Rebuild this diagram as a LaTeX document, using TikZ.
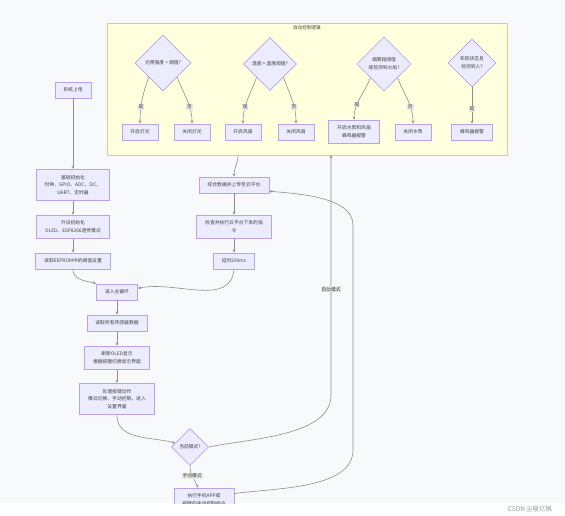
\documentclass[tikz,border=0pt]{standalone}
\usepackage{fontspec}
\setmainfont{Noto Sans CJK SC}
\usepackage{xcolor}
\usepackage{tikz}
\usetikzlibrary{arrows.meta, shapes.geometric}
\definecolor{flowFill}{HTML}{ECECFF}
\definecolor{flowBorder}{HTML}{B9A2EA}
\definecolor{clusterFill}{HTML}{FFFFDE}
\definecolor{clusterBorder}{HTML}{AAAA33}
\definecolor{flowLine}{HTML}{8E8E8E}
\definecolor{pageBack}{HTML}{F8F9FB}
\definecolor{labelBack}{HTML}{E8E8E8}

\begin{document}
\begin{tikzpicture}[x=1pt, y=1pt,
  every node/.style={inner sep=.5ex, font=\fontsize{4.8}{7.7}\selectfont, text=black!75},
  box/.style={rectangle, draw=flowBorder, fill=flowFill, line width=.8pt, align=center, inner xsep=8.5pt, inner ysep=5.8pt},
  decision/.style={diamond, draw=flowBorder, fill=flowFill, line width=.8pt, align=center, inner sep=0pt},
  lbl/.style={fill=labelBack, inner sep=.8pt},
  flow/.style={draw=flowLine, line width=.6pt, -{Stealth[length=3.2pt, width=2.8pt]}}]

  \useasboundingbox (0,0) rectangle (565,-515);
  \fill[white] (0,0) rectangle (565,-515);
  \fill[pageBack] (0,0) rectangle (565,-503);

  \begin{scope}
  \clip (0,0) rectangle (565,-503);

  \node[draw=clusterBorder!55, fill=clusterFill, line width=.8pt, minimum width=400pt, minimum height=132pt, inner sep=0pt] (autoCtrl) at (307,-89) {};
  \node[font=\fontsize{4.6}{5}\selectfont] (autoTitle) at (307,-28) {自动控制逻辑};
  \coordinate (autoIn) at (331,-155);
  \coordinate (autoOut) at (238,-155);
  \coordinate (autoBend) at (331,-395);
  \coordinate (backLow) at (353,-450);
  \coordinate (backHigh) at (353,-225);

  \node[decision, minimum width=56pt, minimum height=56pt] (lightChk) at (163,-63) {光照强度 < 阈值?};
  \node[decision, minimum width=53pt, minimum height=53pt] (tempChk) at (270,-64) {温度 > 温度阈值?};
  \node[decision, minimum width=54pt, minimum height=54pt] (fireChk) at (384,-64) {烟雾超阈值\\或检测到火焰?};
  \node[decision, minimum width=48pt, minimum height=48pt] (guardChk) at (472,-63) {布防状态且\\检测到人?};

  \node[box] (lightOn) at (140,-132) {开启灯光};
  \node[box] (lightOff) at (192,-132) {关闭灯光};
  \node[box] (fanOn) at (243,-132) {开启风扇};
  \node[box] (fanOff) at (296,-132) {关闭风扇};
  \node[box] (pumpOn) at (354,-132) {开启水泵和风扇\\蜂鸣器报警};
  \node[box] (pumpOff) at (413,-132) {关闭水泵};
  \node[box] (buzzAlarm) at (472,-132) {蜂鸣器报警};

  \draw[flow] (lightChk.south west) to[out=-110, in=90] node[lbl, pos=.66] {是} (lightOn.north);
  \draw[flow] (lightChk.south east) to[out=-70, in=90] node[lbl, pos=.66] {否} (lightOff.north);
  \draw[flow] (tempChk.south west) to[out=-110, in=90] node[lbl, pos=.66] {是} (fanOn.north);
  \draw[flow] (tempChk.south east) to[out=-70, in=90] node[lbl, pos=.66] {否} (fanOff.north);
  \draw[flow] (fireChk.south west) to[out=-110, in=90] node[lbl, pos=.66] {是} (pumpOn.north);
  \draw[flow] (fireChk.south east) to[out=-70, in=90] node[lbl, pos=.66] {否} (pumpOff.north);
  \draw[flow] (guardChk.south) -- node[lbl, pos=.6] {是} (buzzAlarm.north);

  % main flow
  \node[box] (powerOn) at (73,-90) {系统上电};
  \node[box] (baseInit) at (73,-185) {基础初始化\\时钟、GPIO、ADC、I2C、\\UART、定时器};
  \node[box] (periInit) at (73,-227) {外设初始化\\OLED、ESP8266透传模式};
  \node[box] (readEeprom) at (73,-261) {读取EEPROM中的阈值设置};
  \node[box] (mainLoop) at (117,-292) {进入主循环};
  \node[box] (readSensor) at (117,-323) {读取所有传感器数据};
  \node[box] (oledShow) at (117,-358) {刷新OLED显示\\根据按键切换显示界面};
  \node[box] (keyProc) at (117,-399) {处理按键动作\\模式切换、手动控制、进入\\设置界面};
  \node[decision, minimum width=37pt, minimum height=37pt] (modeSel) at (190,-447) {当前模式?};
  \node[box] (manualExec) at (204,-500) {执行手机APP或\\按键的手动控制指令};

  \node[box] (cloudUp) at (234,-185) {综合数据并上传至云平台};
  \node[box] (cloudCmd) at (234,-227) {检查并执行云平台下发的指\\令};
  \node[box] (delayWait) at (234,-261) {延时200ms};

  \draw[flow] (powerOn.south) -- (baseInit.north);
  \draw[flow] (baseInit.south) -- (periInit.north);
  \draw[flow] (periInit.south) -- (readEeprom.north);
  \draw[flow] (readEeprom.south) to[out=-90, in=165] (mainLoop.north west);
  \draw[flow] (mainLoop.south) -- (readSensor.north);
  \draw[flow] (readSensor.south) -- (oledShow.north);
  \draw[flow] (oledShow.south) -- (keyProc.north);
  \draw[flow] (keyProc.south) to[out=-90, in=165] (modeSel.165);
  \draw[flow] (modeSel.south) to[out=-90, in=115] node[lbl, pos=.45] {手动模式} (manualExec.115);
  \draw[flow] (modeSel.east) to[out=12, in=-90, looseness=.8] (autoBend) -- node[lbl, pos=.44] {自动模式} (autoIn);
  \draw[flow] (manualExec.12) to[out=8, in=-90, looseness=.8] (backLow) -- (backHigh) to[out=90, in=-5, looseness=.8] (cloudUp.-10);
  \draw[flow] (autoOut) to[out=-90, in=90] (cloudUp.north);
  \draw[flow] (cloudUp.south) -- (cloudCmd.north);
  \draw[flow] (cloudCmd.south) -- (delayWait.north);
  \draw[flow] (delayWait.south) to[out=-95, in=12] (mainLoop.10);
  \end{scope}

  \node[font=\fontsize{6.5}{7}\selectfont, text=black!40] (csdnMark) at (530,-509) {CSDN @殷亿枫};
\end{tikzpicture}
\end{document}
